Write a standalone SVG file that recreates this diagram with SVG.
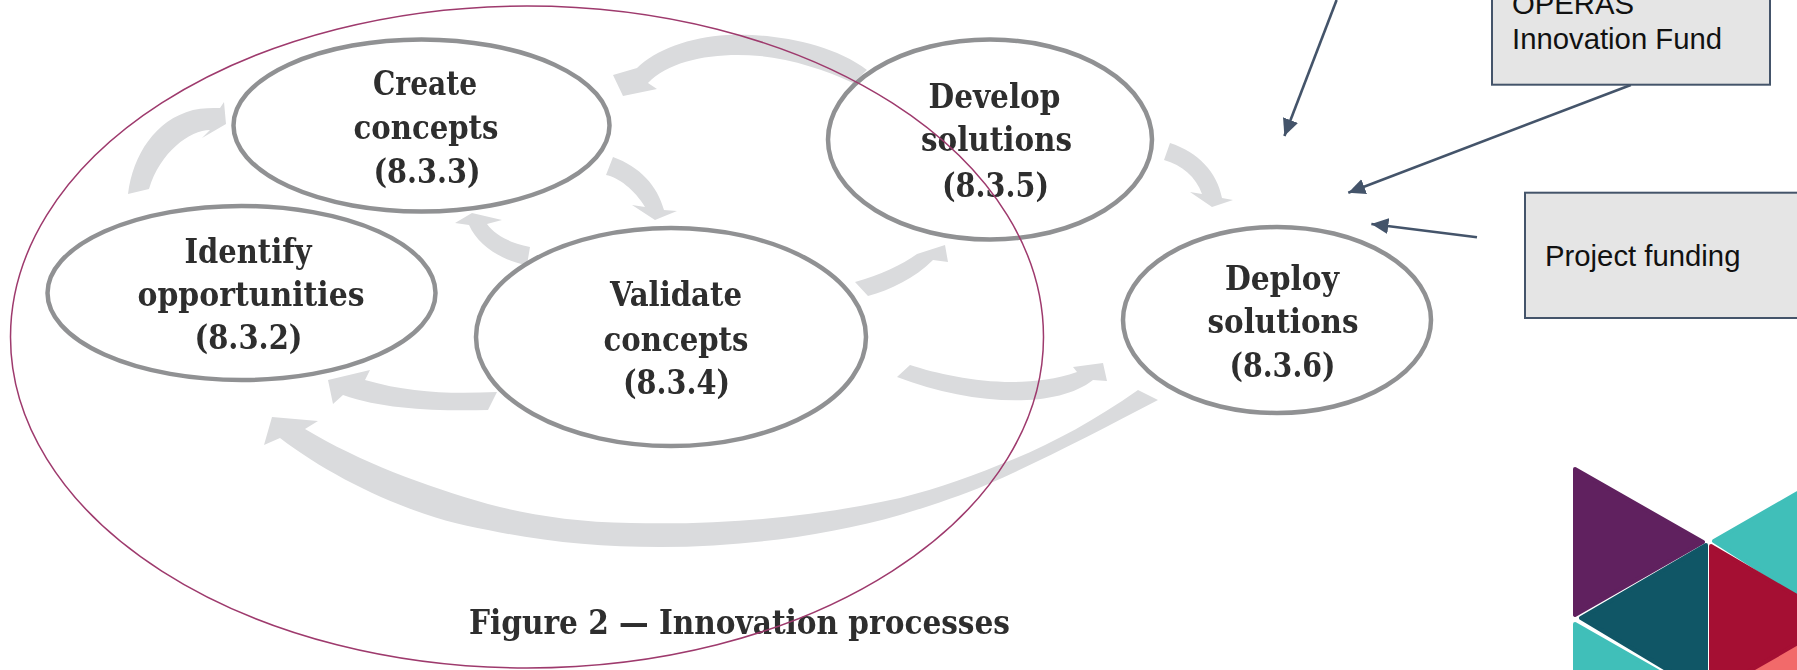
<svg xmlns="http://www.w3.org/2000/svg" width="1797" height="670" viewBox="0 0 1797 670">
<style>
.n{fill:#fff;stroke:#909193;stroke-width:4.5}
.t{font-family:"DejaVu Serif","Liberation Serif",serif;font-weight:700;font-stretch:condensed;font-size:33px;fill:#2e2e2e;text-anchor:middle}
.a{fill:#dadbdd}
.s{font-family:"Liberation Sans",Arial,sans-serif;font-size:29.3px;fill:#111}
.b{fill:#e5e5e5;stroke:#44546a;stroke-width:2}
.l{fill:none;stroke:#44546a;stroke-width:2.6;marker-end:url(#ah)}
.g{stroke-width:4;stroke-linejoin:round}
</style>
<defs>
<marker id="ah" markerUnits="userSpaceOnUse" markerWidth="18" markerHeight="18" refX="17" refY="9" orient="auto"><path d="M0,1 L17,9 L0,17 Z" fill="#44546a"/></marker>
<filter id="soft" x="-5%" y="-5%" width="110%" height="110%"><feGaussianBlur stdDeviation="0.6"/></filter>
</defs>
<rect width="1797" height="670" fill="#fff"/>
<g id="connectors">
<g filter="url(#soft)">
<path class="a" d="M128,194 C133,155 155,120 193,110 C203,108 212,108 220,108 L224,102 L226,124 L202,138 L210,130 C190,130 160,152 149,189 Z"/>
<path class="a" d="M613,157 C640,167 657,185 664,210 L677,211 L655,220 L632,205 L645,207 C635,190 618,177 606,175 Z"/>
<path class="a" d="M530,247 C510,243 495,235 487,224 L502,220 L472,213 L455,223 L469,225 C478,245 500,260 527,265 Z"/>
<path class="a" d="M867,70 C830,42 770,33 727,35 C690,37 655,50 637,68 L613,75 L623,96 L657,89 L648,83 C670,60 715,52 760,56 C795,60 825,70 853,83 Z"/>
<path class="a" d="M1170,143 C1198,152 1217,172 1222,198 L1233,200 L1212,207 L1190,192 L1202,194 C1196,177 1182,165 1164,160 Z"/>
<path class="a" d="M855,282 C880,275 902,265 917,254 L945,245 L948,262 L933,260 C915,278 890,290 868,296 Z"/>
<path class="a" d="M910,365 C950,378 1020,392 1077,372 L1073,367 L1103,363 L1107,381 L1093,380 C1055,410 970,405 897,377 Z"/>
<path class="a" d="M1138,390 C1095,420 1055,442 1014,459 C975,475 940,488 900,498 C810,518 720,525 631,523 C575,522 530,515 488,504 C425,486 360,462 305,429 L318,421 L272,417 L264,445 L280,438 C335,480 415,518 488,530 C545,542 600,547 660,547 C745,547 830,535 900,515 C930,506 960,496 986,485 C1050,457 1100,430 1158,400 Z"/>
<path class="a" d="M497,392 C450,394 410,393 365,380 L370,370 L328,380 L333,404 L343,395 C385,410 440,411 488,410 Z"/>
</g>
<line class="l" x1="1336.6" y1="0" x2="1284.4" y2="136"/>
<line class="l" x1="1630.8" y1="85" x2="1348.3" y2="192.7"/>
<line class="l" x1="1477" y1="237.3" x2="1371.4" y2="224"/>
</g>
<g id="create" filter="url(#soft)">
<ellipse class="n" cx="421.5" cy="125.5" rx="188" ry="86"/>
<text class="t" x="425" y="95" textLength="104" lengthAdjust="spacingAndGlyphs">Create</text>
<text class="t" x="426" y="138.6" textLength="145" lengthAdjust="spacingAndGlyphs">concepts</text>
<text class="t" x="427" y="182.6" textLength="107" lengthAdjust="spacingAndGlyphs">(8.3.3)</text>
</g>
<g id="identify" filter="url(#soft)">
<ellipse class="n" cx="241.5" cy="293" rx="194" ry="87"/>
<text class="t" x="248" y="262.5" textLength="127" lengthAdjust="spacingAndGlyphs">Identify</text>
<text class="t" x="251" y="305.7" textLength="227" lengthAdjust="spacingAndGlyphs">opportunities</text>
<text class="t" x="248.5" y="349" textLength="108" lengthAdjust="spacingAndGlyphs">(8.3.2)</text>
</g>
<g id="validate" filter="url(#soft)">
<ellipse class="n" cx="671" cy="337" rx="195" ry="109"/>
<text class="t" x="676" y="305.7" textLength="132" lengthAdjust="spacingAndGlyphs">Validate</text>
<text class="t" x="676" y="350.6" textLength="145" lengthAdjust="spacingAndGlyphs">concepts</text>
<text class="t" x="676.5" y="394" textLength="107" lengthAdjust="spacingAndGlyphs">(8.3.4)</text>
</g>
<g id="develop" filter="url(#soft)">
<ellipse class="n" cx="990" cy="139.5" rx="162" ry="100"/>
<text class="t" x="994.5" y="108" textLength="132" lengthAdjust="spacingAndGlyphs">Develop</text>
<text class="t" x="996.5" y="151.4" textLength="151" lengthAdjust="spacingAndGlyphs">solutions</text>
<text class="t" x="995.5" y="196.7" textLength="107" lengthAdjust="spacingAndGlyphs">(8.3.5)</text>
</g>
<g id="deploy" filter="url(#soft)">
<ellipse class="n" cx="1277" cy="320" rx="154" ry="93"/>
<text class="t" x="1282" y="289.5" textLength="114" lengthAdjust="spacingAndGlyphs">Deploy</text>
<text class="t" x="1283" y="332.6" textLength="151" lengthAdjust="spacingAndGlyphs">solutions</text>
<text class="t" x="1282.5" y="377" textLength="106" lengthAdjust="spacingAndGlyphs">(8.3.6)</text>
</g>
<g id="caption" filter="url(#soft)">
<text class="t" x="739.5" y="634" textLength="541" lengthAdjust="spacingAndGlyphs">Figure 2 — Innovation processes</text>
</g>
<g id="operas-box">
<rect class="b" x="1492" y="-40" width="278" height="124.7"/>
<text class="s" x="1512" y="14">OPERAS</text>
<text class="s" x="1512" y="49.3">Innovation Fund</text>
</g>
<g id="project-box">
<rect class="b" x="1525" y="192.7" width="300" height="125.3"/>
<text class="s" x="1545" y="266">Project funding</text>
</g>
<ellipse id="scope" cx="527" cy="337" rx="516.5" ry="331" fill="none" stroke="#9e3a6d" stroke-width="1.5"/>
<g id="logo" class="g">
<polygon points="1575,469 1703,542 1575,615" fill="#60215f" stroke="#60215f"/>
<polygon points="1575,624 1703,697 1575,771" fill="#40bfb9" stroke="#40bfb9"/>
<polygon points="1706,545 1581,618 1706,693" fill="#105666" stroke="#105666"/>
<polygon points="1714,541 1841,468 1841,622" fill="#40bfb9" stroke="#40bfb9"/>
<polygon points="1841,618 1841,768 1714,693" fill="#f26a6a" stroke="#f26a6a"/>
<polygon points="1711,546 1838,620 1711,693" fill="#a50f33" stroke="#a50f33"/>
</g>
</svg>
